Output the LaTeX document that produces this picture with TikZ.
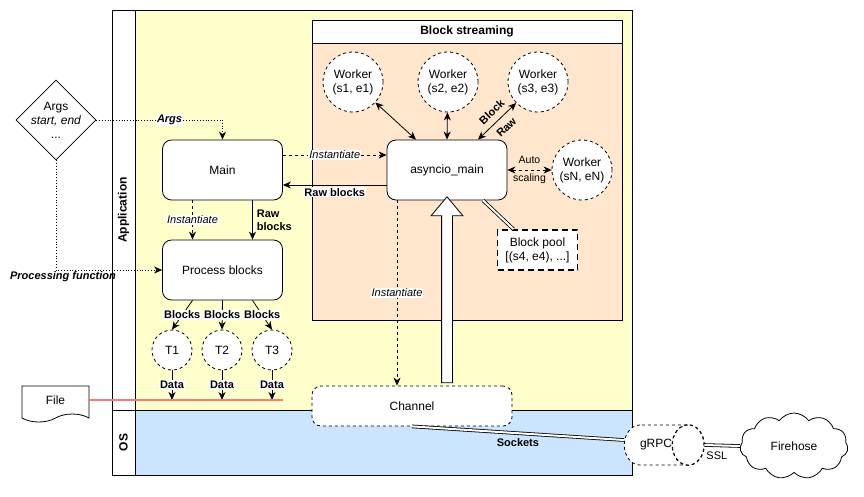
\documentclass[tikz,border=0pt]{standalone}
\usepackage{fontspec}
\setmainfont{Liberation Sans}
\usepackage{tikz}
\usetikzlibrary{shapes.geometric,shapes.symbols,shapes.arrows,arrows,arrows.meta,calc,positioning}
\definecolor{appyellow}{HTML}{FFFFCC}
\definecolor{osblue}{HTML}{CCE5FF}
\definecolor{streampeach}{HTML}{FFE6CC}
\definecolor{fileline}{HTML}{FF7777}

\begin{document}
\begin{tikzpicture}[x=1pt, y=-1pt, >={Stealth[length=8pt, width=7pt, inset=2.5pt]}, line width=0.8pt,
    txt/.style={font=\fontsize{12}{14}\selectfont},
    lbl/.style={font=\fontsize{11}{13}\selectfont, inner sep=1pt, fill=white},
    box/.style={txt, draw, rounded corners=9pt, fill=white, minimum width=120pt, minimum height=60pt},
    worker/.style={txt, circle, draw, dashed, fill=white, minimum size=60pt, inner sep=0pt, align=center},
    task/.style={txt, circle, draw, dashed, fill=white, minimum size=40pt, inner sep=0pt},
    lane/.style={draw, inner sep=0pt, minimum width=497pt},
    lanename/.style={draw, inner sep=0pt, minimum width=23pt, font=\bfseries\fontsize{12}{14}\selectfont}]
   \useasboundingbox (0,0) rectangle (864,496);
   % swimlanes
   \node (app) [lane, fill=appyellow, minimum height=400pt] at (383.5,210) {};
   \node (os) [lane, fill=osblue, minimum height=65pt] at (383.5,442.5) {};
   \node (applbl) [lanename, minimum height=400pt] at (123.5,210) {\rotatebox{90}{Application}};
   \node (oslbl) [lanename, minimum height=65pt] at (123.5,442.5) {\rotatebox{90}{OS}};
   % block streaming container
   \node (sthead) [draw, fill=white, minimum width=310pt, minimum height=23pt, inner sep=0pt, font=\bfseries\fontsize{12}{14}\selectfont] at (467,31.5) {Block streaming};
   \node (stbody) [draw, fill=streampeach, minimum width=310pt, minimum height=277pt, inner sep=0pt] at (467,181.5) {};

   \node (args) [diamond, draw, fill=white, minimum width=80pt, minimum height=80pt, inner sep=0pt,
      label={[txt, align=center]center:Args\\\textit{start, end}\\...}] at (56,120) {};
   \node (main) [box] at (222.5,170) {Main};
   \node (pb) [box] at (222.5,270) {Process blocks};
   \node (amain) [box] at (447,170) {asyncio\_main};
   \node (chan) [box, dashed, minimum width=200pt, minimum height=40pt] at (412,406) {Channel};
   \node (pool) [txt, draw, fill=white, dash pattern=on 6pt off 4pt, line width=1.6pt, minimum width=80pt, minimum height=40pt, align=center] at (537.5,250) {Block pool\\{}[(s4, e4), ...]};
   \begin{scope}[every node/.style={worker}]
    \node (w1) at (353,82) {Worker\\(s1, e1)};
    \node (w2) at (448,82) {Worker\\(s2, e2)};
    \node (w3) at (538,82) {Worker\\(s3, e3)};
    \node (wn) at (582,170) {Worker\\(sN, eN)};
   \end{scope}
   \begin{scope}[every node/.style={task}]
    \node (t1) at (172,350) {T1};
    \node (t2) at (222,350) {T2};
    \node (t3) at (272,350) {T3};
   \end{scope}
   \node (file) [txt, tape, draw, fill=white, tape bend top=none, tape bend height=8pt, minimum width=67pt, minimum height=36pt] at (55.5,400) {File};
   \coordinate (redend) at (283,400);
   \node (grpc) [txt, cylinder, draw, dashed, fill=white, aspect=2.9, minimum width=40pt, minimum height=74pt, inner sep=0pt] at (656,445) {gRPC};
   \draw[dashed] let \p1=(grpc.top), \p2=(grpc.before top), \p3=(grpc.after top) in
      (\x2,\y1) ellipse [x radius=\x1-\x2, y radius=(\y2-\y3)/2];
   \node (fire) [txt, cloud, draw, fill=white, cloud puffs=11, cloud puff arc=110, aspect=1.7, minimum width=108pt, minimum height=66pt, inner sep=0pt] at (794,446) {Firehose};
   \node (bigarrow) [single arrow, draw, fill=white, shape border rotate=90, minimum height=186pt, inner sep=5pt,
      single arrow head extend=10.5pt, single arrow tip angle=80] at ($(amain.south)!0.5!(amain.south |- chan.north)$) {};

   \begin{scope}[every node/.style={lbl}]
    \draw[dotted,->] (args.east) -| node[pos=0.29]{\textbf{\textit{Args}}} (main.north);
    \draw[dotted,->] (args.south) |- node[pos=0.5, anchor=north, xshift=7pt, fill=none]{\textbf{\textit{Processing function}}} (pb.west);
    \draw[dashed,->] ([yshift=15pt]main.east) -- node{\textit{Instantiate}} ([yshift=15pt]amain.west);
    \draw[->] ([yshift=-15pt]amain.west) -- node[below=2pt]{\textbf{Raw blocks}} ([yshift=-15pt]main.east);
    \draw[dashed,->] ([xshift=-30pt]main.south) -- node{\textit{Instantiate}} ([xshift=-30pt]pb.north);
    \draw[->] ([xshift=30pt]main.south) -- node[right=3pt, fill=none, align=left]{\textbf{Raw}\\\textbf{blocks}} ([xshift=30pt]pb.north);
    \draw[->] ([xshift=-30pt]pb.south) -- node{\textbf{Blocks}} (t1.north);
    \draw[->] (pb.south) -- node{\textbf{Blocks}} (t2.north);
    \draw[->] ([xshift=30pt]pb.south) -- node{\textbf{Blocks}} (t3.north);
    \draw[->] (t1) -- node{\textbf{Data}} (t1 |- redend);
    \draw[->] (t2) -- node{\textbf{Data}} (t2 |- redend);
    \draw[->] (t3) -- node{\textbf{Data}} (t3 |- redend);
    \draw[<->] (w1) -- ([xshift=-31pt]amain.north);
    \draw[<->] (w2) -- (amain.north);
    \draw[<->] (w3) -- node[pos=0.45, sloped, fill=none, align=center, font=\fontsize{11}{21}\selectfont]{\textbf{Block}\\\textbf{Raw}} ([xshift=31pt]amain.north);
    \draw[dashed,<->] (amain.east) -- node[fill=none, align=center, font=\fontsize{10.5}{18}\selectfont]{Auto\\scaling} (wn.west);
    \draw[dashed,->] ([xshift=-50pt]amain.south) -- node{\textit{Instantiate}} ([xshift=-50pt]amain.south |- chan.north);
    \draw[double, double distance=2pt] ([xshift=36pt]amain.south) -- ([xshift=-24pt]pool.north);
    \draw[double, double distance=2pt] (chan.south) -- node[below=4pt, fill=none]{\textbf{Sockets}} ([yshift=5pt]grpc.west);
    \draw[double, double distance=2pt] (grpc.east) -- node[pos=0.35, below=5pt, fill=none]{SSL} (fire.west);
   \end{scope}
   \draw[fileline, line width=1.2pt] (file.east) -- (redend);
\end{tikzpicture}
\end{document}
